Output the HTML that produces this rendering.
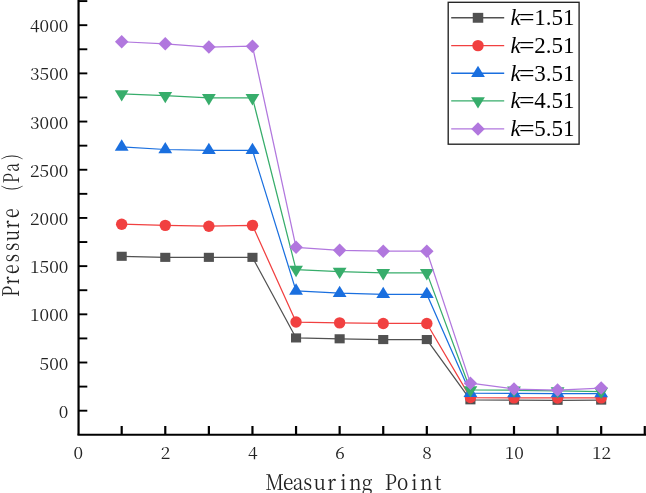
<!DOCTYPE html>
<html lang="en">
<head>
<meta charset="utf-8">
<title>Pressure vs Measuring Point</title>
<style>
html,body{margin:0;padding:0;background:#fff;}
body{width:646px;height:493px;overflow:hidden;}
svg{display:block;}
.tick{font-family:"Noto Serif CJK SC","Liberation Serif",serif;font-size:17.4px;fill:#222;}
.ttl{font-family:"Noto Serif CJK SC","Liberation Serif",serif;fill:#222;}
.leg{font-family:"Liberation Serif",serif;font-size:23px;fill:#000;}
</style>
</head>
<body>
<svg width="646" height="493" viewBox="0 0 646 493">
<rect x="0" y="0" width="646" height="493" fill="#ffffff"/>

<g stroke="#000" stroke-width="2" fill="none" stroke-linecap="butt">
<path d="M78.55,0 V434.7" stroke-width="2.2"/><path d="M77.45,434.7 H646"/>
<path d="M78.6,410.70 H87.3" stroke-width="1.9"/>
<path d="M78.6,386.60 H87.3" stroke-width="1.9"/>
<path d="M78.6,362.51 H87.3" stroke-width="1.9"/>
<path d="M78.6,338.42 H87.3" stroke-width="1.9"/>
<path d="M78.6,314.32 H87.3" stroke-width="1.9"/>
<path d="M78.6,290.22 H87.3" stroke-width="1.9"/>
<path d="M78.6,266.13 H87.3" stroke-width="1.9"/>
<path d="M78.6,242.03 H87.3" stroke-width="1.9"/>
<path d="M78.6,217.94 H87.3" stroke-width="1.9"/>
<path d="M78.6,193.84 H87.3" stroke-width="1.9"/>
<path d="M78.6,169.75 H87.3" stroke-width="1.9"/>
<path d="M78.6,145.66 H87.3" stroke-width="1.9"/>
<path d="M78.6,121.56 H87.3" stroke-width="1.9"/>
<path d="M78.6,97.47 H87.3" stroke-width="1.9"/>
<path d="M78.6,73.37 H87.3" stroke-width="1.9"/>
<path d="M78.6,49.28 H87.3" stroke-width="1.9"/>
<path d="M78.6,25.18 H87.3" stroke-width="1.9"/>
<path d="M78.6,1.09 H87.3" stroke-width="1.9"/>
<path d="M121.69,434.7 V426" stroke-width="2.2"/>
<path d="M165.28,434.7 V426" stroke-width="2.2"/>
<path d="M208.87,434.7 V426" stroke-width="2.2"/>
<path d="M252.46,434.7 V426" stroke-width="2.2"/>
<path d="M296.05,434.7 V426" stroke-width="2.2"/>
<path d="M339.64,434.7 V426" stroke-width="2.2"/>
<path d="M383.23,434.7 V426" stroke-width="2.2"/>
<path d="M426.82,434.7 V426" stroke-width="2.2"/>
<path d="M470.41,434.7 V426" stroke-width="2.2"/>
<path d="M514.00,434.7 V426" stroke-width="2.2"/>
<path d="M557.59,434.7 V426" stroke-width="2.2"/>
<path d="M601.18,434.7 V426" stroke-width="2.2"/>
<path d="M644.77,434.7 V426" stroke-width="2.2"/>
</g>
<polyline points="121.69,256.29 165.28,257.35 208.87,257.35 252.46,257.35 296.05,337.93 339.64,338.79 383.23,339.56 426.82,339.56 470.41,399.80 514.00,400.09 557.59,400.28 601.18,400.09" fill="none" stroke="#515151" stroke-width="1.25" stroke-linejoin="round"/>
<rect x="116.64" y="251.74" width="10.10" height="9.10" fill="#515151"/>
<rect x="160.23" y="252.80" width="10.10" height="9.10" fill="#515151"/>
<rect x="203.82" y="252.80" width="10.10" height="9.10" fill="#515151"/>
<rect x="247.41" y="252.80" width="10.10" height="9.10" fill="#515151"/>
<rect x="291.00" y="333.38" width="10.10" height="9.10" fill="#515151"/>
<rect x="334.59" y="334.24" width="10.10" height="9.10" fill="#515151"/>
<rect x="378.18" y="335.01" width="10.10" height="9.10" fill="#515151"/>
<rect x="421.77" y="335.01" width="10.10" height="9.10" fill="#515151"/>
<rect x="465.36" y="395.25" width="10.10" height="9.10" fill="#515151"/>
<rect x="508.95" y="395.54" width="10.10" height="9.10" fill="#515151"/>
<rect x="552.54" y="395.73" width="10.10" height="9.10" fill="#515151"/>
<rect x="596.13" y="395.54" width="10.10" height="9.10" fill="#515151"/>
<polyline points="121.69,224.20 165.28,225.35 208.87,226.22 252.46,225.35 296.05,322.02 339.64,322.89 383.23,323.47 426.82,323.47 470.41,397.59 514.00,397.87 557.59,397.97 601.18,397.87" fill="none" stroke="#F14040" stroke-width="1.25" stroke-linejoin="round"/>
<circle cx="121.69" cy="224.20" r="5.70" fill="#F14040"/>
<circle cx="165.28" cy="225.35" r="5.70" fill="#F14040"/>
<circle cx="208.87" cy="226.22" r="5.70" fill="#F14040"/>
<circle cx="252.46" cy="225.35" r="5.70" fill="#F14040"/>
<circle cx="296.05" cy="322.02" r="5.70" fill="#F14040"/>
<circle cx="339.64" cy="322.89" r="5.70" fill="#F14040"/>
<circle cx="383.23" cy="323.47" r="5.70" fill="#F14040"/>
<circle cx="426.82" cy="323.47" r="5.70" fill="#F14040"/>
<circle cx="470.41" cy="397.59" r="5.70" fill="#F14040"/>
<circle cx="514.00" cy="397.87" r="5.70" fill="#F14040"/>
<circle cx="557.59" cy="397.97" r="5.70" fill="#F14040"/>
<circle cx="601.18" cy="397.87" r="5.70" fill="#F14040"/>
<polyline points="121.69,146.90 165.28,149.50 208.87,150.27 252.46,150.27 296.05,290.89 339.64,293.21 383.23,294.27 426.82,294.27 470.41,393.15 514.00,393.44 557.59,393.54 601.18,393.54" fill="none" stroke="#1A6FDF" stroke-width="1.25" stroke-linejoin="round"/>
<polygon points="114.79,150.67 128.59,150.67 121.69,139.37" fill="#1A6FDF"/>
<polygon points="158.38,153.27 172.18,153.27 165.28,141.97" fill="#1A6FDF"/>
<polygon points="201.97,154.04 215.77,154.04 208.87,142.74" fill="#1A6FDF"/>
<polygon points="245.56,154.04 259.36,154.04 252.46,142.74" fill="#1A6FDF"/>
<polygon points="289.15,294.66 302.95,294.66 296.05,283.36" fill="#1A6FDF"/>
<polygon points="332.74,296.97 346.54,296.97 339.64,285.67" fill="#1A6FDF"/>
<polygon points="376.33,298.03 390.13,298.03 383.23,286.73" fill="#1A6FDF"/>
<polygon points="419.92,298.03 433.72,298.03 426.82,286.73" fill="#1A6FDF"/>
<polygon points="463.51,396.92 477.31,396.92 470.41,385.62" fill="#1A6FDF"/>
<polygon points="507.10,397.21 520.90,397.21 514.00,385.91" fill="#1A6FDF"/>
<polygon points="550.69,397.30 564.49,397.30 557.59,386.00" fill="#1A6FDF"/>
<polygon points="594.28,397.30 608.08,397.30 601.18,386.00" fill="#1A6FDF"/>
<polyline points="121.69,93.89 165.28,95.72 208.87,97.84 252.46,97.84 296.05,269.59 339.64,271.52 383.23,272.87 426.82,272.87 470.41,389.97 514.00,390.26 557.59,390.93 601.18,391.51" fill="none" stroke="#37AD6B" stroke-width="1.25" stroke-linejoin="round"/>
<polygon points="114.79,90.13 128.59,90.13 121.69,101.43" fill="#37AD6B"/>
<polygon points="158.38,91.96 172.18,91.96 165.28,103.26" fill="#37AD6B"/>
<polygon points="201.97,94.08 215.77,94.08 208.87,105.38" fill="#37AD6B"/>
<polygon points="245.56,94.08 259.36,94.08 252.46,105.38" fill="#37AD6B"/>
<polygon points="289.15,265.83 302.95,265.83 296.05,277.13" fill="#37AD6B"/>
<polygon points="332.74,267.75 346.54,267.75 339.64,279.05" fill="#37AD6B"/>
<polygon points="376.33,269.10 390.13,269.10 383.23,280.40" fill="#37AD6B"/>
<polygon points="419.92,269.10 433.72,269.10 426.82,280.40" fill="#37AD6B"/>
<polygon points="463.51,386.20 477.31,386.20 470.41,397.50" fill="#37AD6B"/>
<polygon points="507.10,386.49 520.90,386.49 514.00,397.79" fill="#37AD6B"/>
<polygon points="550.69,387.17 564.49,387.17 557.59,398.47" fill="#37AD6B"/>
<polygon points="594.28,387.75 608.08,387.75 601.18,399.05" fill="#37AD6B"/>
<polyline points="121.69,41.75 165.28,43.87 208.87,47.05 252.46,46.18 296.05,247.33 339.64,250.32 383.23,251.18 426.82,251.18 470.41,383.13 514.00,389.01 557.59,390.07 601.18,388.04" fill="none" stroke="#B177DE" stroke-width="1.25" stroke-linejoin="round"/>
<polygon points="114.94,41.75 121.69,35.00 128.44,41.75 121.69,48.50" fill="#B177DE"/>
<polygon points="158.53,43.87 165.28,37.12 172.03,43.87 165.28,50.62" fill="#B177DE"/>
<polygon points="202.12,47.05 208.87,40.30 215.62,47.05 208.87,53.80" fill="#B177DE"/>
<polygon points="245.71,46.18 252.46,39.43 259.21,46.18 252.46,52.93" fill="#B177DE"/>
<polygon points="289.30,247.33 296.05,240.58 302.80,247.33 296.05,254.08" fill="#B177DE"/>
<polygon points="332.89,250.32 339.64,243.57 346.39,250.32 339.64,257.07" fill="#B177DE"/>
<polygon points="376.48,251.18 383.23,244.43 389.98,251.18 383.23,257.93" fill="#B177DE"/>
<polygon points="420.07,251.18 426.82,244.43 433.57,251.18 426.82,257.93" fill="#B177DE"/>
<polygon points="463.66,383.13 470.41,376.38 477.16,383.13 470.41,389.88" fill="#B177DE"/>
<polygon points="507.25,389.01 514.00,382.26 520.75,389.01 514.00,395.76" fill="#B177DE"/>
<polygon points="550.84,390.07 557.59,383.32 564.34,390.07 557.59,396.82" fill="#B177DE"/>
<polygon points="594.43,388.04 601.18,381.29 607.93,388.04 601.18,394.79" fill="#B177DE"/>
<text class="tick" text-anchor="end" transform="translate(68.3,417.70) scale(1,0.95)">0</text>
<text class="tick" text-anchor="end" transform="translate(68.3,369.51) scale(1,0.95)">500</text>
<text class="tick" text-anchor="end" transform="translate(68.3,321.32) scale(1,0.95)">1000</text>
<text class="tick" text-anchor="end" transform="translate(68.3,273.13) scale(1,0.95)">1500</text>
<text class="tick" text-anchor="end" transform="translate(68.3,224.94) scale(1,0.95)">2000</text>
<text class="tick" text-anchor="end" transform="translate(68.3,176.75) scale(1,0.95)">2500</text>
<text class="tick" text-anchor="end" transform="translate(68.3,128.56) scale(1,0.95)">3000</text>
<text class="tick" text-anchor="end" transform="translate(68.3,80.37) scale(1,0.95)">3500</text>
<text class="tick" text-anchor="end" transform="translate(68.3,32.18) scale(1,0.95)">4000</text>
<text class="tick" text-anchor="middle" transform="translate(78.40,458.9) scale(1,0.95)">0</text>
<text class="tick" text-anchor="middle" transform="translate(165.58,458.9) scale(1,0.95)">2</text>
<text class="tick" text-anchor="middle" transform="translate(252.76,458.9) scale(1,0.95)">4</text>
<text class="tick" text-anchor="middle" transform="translate(339.94,458.9) scale(1,0.95)">6</text>
<text class="tick" text-anchor="middle" transform="translate(427.12,458.9) scale(1,0.95)">8</text>
<text class="tick" text-anchor="middle" transform="translate(514.30,458.9) scale(1,0.95)">10</text>
<text class="tick" text-anchor="middle" transform="translate(601.48,458.9) scale(1,0.95)">12</text>
<text class="ttl" font-size="21.6" transform="translate(0,489.8) scale(0.88,1)" y="0" x="301.70 321.54 332.63 344.63 356.15 371.76 386.55 396.48 410.95 427.77 437.26 451.02 467.34 477.28 493.89">Measuring Point</text>
<text class="ttl" font-size="22.9" transform="translate(19.4,297.2) rotate(-90) scale(0.765,1)" y="0" x="0.16 16.75 30.36 45.82 60.46 73.03 89.95 103.56">Pressure</text>
<text class="ttl" font-size="21.3" transform="translate(19.4,297.2) rotate(-90) scale(0.74,1)" y="-1.1 0 0 -1.1" x="143.51 154.15 169.67 185.81">(Pa)</text>
<rect x="448.2" y="2.3" width="130.9" height="141.9" fill="#fff" stroke="#222" stroke-width="1.35"/>
<line x1="451.2" y1="17.8" x2="504.2" y2="17.8" stroke="#515151" stroke-width="1.4"/>
<rect x="472.75" y="12.85" width="10.50" height="9.90" fill="#515151"/>
<text class="leg" y="25.2"><tspan x="510.6" font-style="italic">k</tspan><tspan x="519" textLength="15.6" lengthAdjust="spacingAndGlyphs">=</tspan><tspan x="534.3">1.51</tspan></text>
<line x1="451.2" y1="45.6" x2="504.2" y2="45.6" stroke="#F14040" stroke-width="1.4"/>
<circle cx="478.00" cy="45.60" r="5.70" fill="#F14040"/>
<text class="leg" y="53.0"><tspan x="510.6" font-style="italic">k</tspan><tspan x="519" textLength="15.6" lengthAdjust="spacingAndGlyphs">=</tspan><tspan x="534.3">2.51</tspan></text>
<line x1="451.2" y1="73.3" x2="504.2" y2="73.3" stroke="#1A6FDF" stroke-width="1.4"/>
<polygon points="471.10,77.07 484.90,77.07 478.00,65.77" fill="#1A6FDF"/>
<text class="leg" y="80.7"><tspan x="510.6" font-style="italic">k</tspan><tspan x="519" textLength="15.6" lengthAdjust="spacingAndGlyphs">=</tspan><tspan x="534.3">3.51</tspan></text>
<line x1="451.2" y1="100.9" x2="504.2" y2="100.9" stroke="#37AD6B" stroke-width="1.4"/>
<polygon points="471.10,97.13 484.90,97.13 478.00,108.43" fill="#37AD6B"/>
<text class="leg" y="108.3"><tspan x="510.6" font-style="italic">k</tspan><tspan x="519" textLength="15.6" lengthAdjust="spacingAndGlyphs">=</tspan><tspan x="534.3">4.51</tspan></text>
<line x1="451.2" y1="128.9" x2="504.2" y2="128.9" stroke="#B177DE" stroke-width="1.4"/>
<polygon points="471.25,128.90 478.00,122.15 484.75,128.90 478.00,135.65" fill="#B177DE"/>
<text class="leg" y="136.3"><tspan x="510.6" font-style="italic">k</tspan><tspan x="519" textLength="15.6" lengthAdjust="spacingAndGlyphs">=</tspan><tspan x="534.3">5.51</tspan></text>
</svg>
</body>
</html>
